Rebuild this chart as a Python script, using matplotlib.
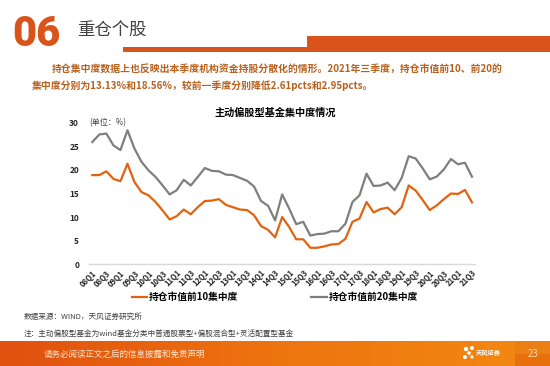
import matplotlib
matplotlib.use("Agg")
import matplotlib.pyplot as plt
import numpy as np
from matplotlib.patches import Rectangle

plt.rcParams["font.family"] = ["Noto Sans CJK SC", "DejaVu Sans"]

# quarters 08Q1 .. 21Q3
quarters = [f"{y:02d}Q{q}" for y in range(8, 22) for q in range(1, 5)][:55]

top10 = [18.9, 18.9, 19.7, 18.1, 17.6, 21.3, 17.4, 15.3, 14.6, 13.2,
         11.4, 9.5, 10.2, 11.6, 10.6, 12.1, 13.4, 13.5, 13.8, 12.6,
         12.1, 11.6, 11.5, 10.4, 8.1, 7.3, 5.7, 10.0, 7.9, 5.3,
         5.3, 3.5, 3.5, 3.8, 4.2, 4.3, 5.4, 9.0, 9.7, 13.2,
         11.0, 11.7, 12.0, 10.6, 12.1, 16.7, 15.6, 13.6, 11.5, 12.5,
         13.8, 15.0, 14.9, 15.74, 13.13]
top20 = [25.9, 27.5, 27.7, 25.2, 24.2, 28.4, 24.5, 21.7, 19.9, 18.5,
         16.7, 14.8, 15.7, 17.9, 16.7, 18.5, 20.4, 19.8, 19.7, 19.0,
         18.9, 18.3, 17.7, 16.5, 13.4, 12.4, 9.3, 14.8, 11.8, 8.5,
         9.0, 6.1, 6.4, 6.5, 7.0, 7.0, 8.6, 13.2, 14.6, 19.2,
         16.6, 16.7, 17.3, 15.7, 18.3, 22.9, 22.4, 20.3, 18.0, 18.6,
         20.1, 22.3, 21.2, 21.51, 18.56]
label_10 = "持仓市值前10集中度"
label_20 = "持仓市值前20集中度"

ORANGE = "#E2620F"
GRAY = "#7F7F7F"
TXT_ORANGE = "#B8601E"

W, H = 550, 366
fig = plt.figure(figsize=(W / 100, H / 100), dpi=100)
fig.patch.set_facecolor("white")


def fx(px):
    return px / W


def fy(py):
    return 1 - py / H


# header
fig.text(fx(12), fy(34), "06", family="Roboto", weight="heavy", fontsize=30,
         color="#D9541A", va="center", ha="left")
fig.text(fx(77), fy(31), "重仓个股", fontsize=12.5, color="#404040",
         va="center", ha="left")
fig.add_artist(Rectangle((fx(123), fy(52)), fx(307 - 123), 5 / H,
                         transform=fig.transFigure, color="#D9541A", lw=0))
fig.add_artist(Rectangle((fx(307), fy(52)), fx(W - 307), 16 / H,
                         transform=fig.transFigure, color="#D9541A", lw=0))

fig.text(fx(52), fy(70),
         "持仓集中度数据上也反映出本季度机构资金持股分散化的情形。2021年三季度，持仓市值前10、前20的",
         fontsize=7.1, weight="bold", color=TXT_ORANGE, va="center", ha="left")
fig.text(fx(32), fy(86),
         "集中度分别为13.13%和18.56%，较前一季度分别降低2.61pcts和2.95pcts。",
         fontsize=7.1, weight="bold", color=TXT_ORANGE, va="center", ha="left")

# chart
ax = fig.add_axes([fx(88.8), fy(264.3), fx(475.5 - 88.8), (264.3 - 122.7) / H])
x = np.arange(len(quarters))
ax.plot(x, top10, color=ORANGE, lw=1.6, label=label_10)
ax.plot(x, top20, color=GRAY, lw=1.6, label=label_20)
ax.set_xlim(-0.5, len(quarters) - 0.5)
ax.set_ylim(0, 30)
ax.set_yticks(range(0, 31, 5))
ax.set_xticks(x[::2])
ax.set_xticklabels(quarters[::2], rotation=45, ha="right",
                   rotation_mode="anchor", fontsize=5.5, weight="bold",
                   color="#262626")
for lab in ax.get_yticklabels():
    lab.set_fontsize(6)
    lab.set_weight("bold")
    lab.set_color("#262626")
ax.tick_params(length=0)
ax.tick_params(axis="y", pad=7)
ax.tick_params(axis="x", pad=3)
for s in ["top", "right", "left"]:
    ax.spines[s].set_visible(False)
ax.spines["bottom"].set_color("#D9D9D9")
ax.spines["bottom"].set_linewidth(1)
ax.set_facecolor("none")

fig.text(fx(275), fy(113), "主动偏股型基金集中度情况", fontsize=7.3,
         weight="bold", color="black", ha="center", va="center")
fig.text(fx(89), fy(123), "(单位：%)", fontsize=5.8, color="#404040",
         ha="left", va="center")

leg = fig.legend(loc="center", bbox_to_anchor=(fx(275), fy(297)), ncol=2,
                 frameon=False, handlelength=1.6, handletextpad=0.2,
                 columnspacing=7.5, prop={"size": 7, "weight": "bold"})

# notes
fig.text(fx(24), fy(317), "数据来源：WIND，天风证券研究所", fontsize=5.5,
         color="#404040", ha="left", va="center")
fig.text(fx(24), fy(334),
         "注：主动偏股型基金为wind基金分类中普通股票型+偏股混合型+灵活配置型基金",
         fontsize=5.5, color="#404040", ha="left", va="center")

# footer
grad = np.linspace(0, 1, 256).reshape(1, -1)
fax = fig.add_axes([0, 0, 1, (H - 341) / H])
cmap = matplotlib.colors.LinearSegmentedColormap.from_list(
    "foot", ["#E0500F", "#EE7410", "#F28A10"])
fax.imshow(grad, aspect="auto", cmap=cmap, extent=[0, W, 0, 25])
fax.add_patch(Rectangle((515, 0), 35, 25, color="#E8700C", lw=0))
fax.add_patch(Rectangle((515, 12), 35, 13, color="#F08A18", lw=0, alpha=0.6))
fax.set_xlim(0, W)
fax.set_ylim(0, 25)
fax.axis("off")
fig.text(fx(44), fy(354), "请务必阅读正文之后的信息披露和免责声明",
         fontsize=6.1, color="#FDE6D0", ha="left", va="center")
fig.text(fx(476), fy(352), "天风证券", fontsize=4.5, color="white",
         ha="left", va="center", weight="bold")
for cx, cy, r in [(466, 349, 2.2), (472, 348, 2.0), (469, 353, 1.8),
                  (465, 357, 2.0), (472, 357, 1.6)]:
    fax.add_patch(plt.Circle((cx, H - cy), r, color="white", lw=0))
fig.text(fx(533), fy(354), "23", fontsize=7, color="#FBD3A8",
         ha="center", va="center")

fig.savefig("out.png", dpi=100)
